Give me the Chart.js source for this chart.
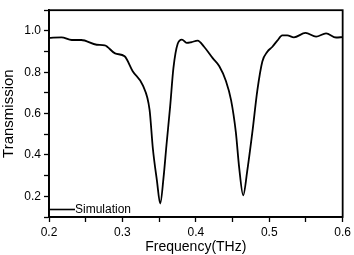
<!DOCTYPE html>
<html>
<head>
  <meta charset="UTF-8" />
  <script src="https://cdn.jsdelivr.net/npm/chart.js"></script>
  <style>
    body { margin: 0; background: #fff; }
    #wrap { width: 354px; height: 255px; }
  </style>
</head>
<body>
  <div id="wrap"><canvas id="chart"></canvas></div>
  <script>
    const freq = [0.200, 0.217, 0.231, 0.244, 0.265, 0.276, 0.290, 0.303, 0.314, 0.328,
                  0.337, 0.3415, 0.347, 0.3515, 0.356, 0.360, 0.365, 0.3695, 0.3753, 0.381,
                  0.3875, 0.3935, 0.4025, 0.4115, 0.423, 0.432, 0.441, 0.448, 0.4545, 0.459,
                  0.4645, 0.470, 0.477, 0.4838, 0.4906, 0.4974, 0.504, 0.511, 0.5177, 0.5245,
                  0.5336, 0.5494, 0.5638, 0.5774, 0.591, 0.600];
    const trans = [0.966, 0.969, 0.956, 0.956, 0.933, 0.930, 0.891, 0.877, 0.805, 0.735,
                   0.618, 0.430, 0.276, 0.165, 0.290, 0.447, 0.634, 0.821, 0.938, 0.958,
                   0.942, 0.945, 0.953, 0.922, 0.868, 0.829, 0.758, 0.665, 0.510, 0.340,
                   0.205, 0.322, 0.510, 0.712, 0.852, 0.899, 0.922, 0.953, 0.978, 0.978,
                   0.969, 0.990, 0.972, 0.988, 0.968, 0.970];
    const seriesName = "Simulation";

    const font = "'Liberation Sans', Arial, sans-serif";

    // legend sits inside the plot, bottom-left, plus the box frame
    const insideLegend = {
      id: "insideLegend",
      afterDraw(chart) {
        const { ctx, chartArea } = chart;
        ctx.save();
        ctx.strokeStyle = "#000";
        ctx.lineWidth = 1.8;
        ctx.strokeRect(chartArea.left, chartArea.top, chartArea.right - chartArea.left, chartArea.bottom - chartArea.top);
        const y = chartArea.bottom - 7.5;
        ctx.lineWidth = 1.6;
        ctx.beginPath();
        ctx.moveTo(chartArea.left, y);
        ctx.lineTo(chartArea.left + 26, y);
        ctx.stroke();
        ctx.fillStyle = "#000";
        ctx.font = "12px " + font;
        ctx.textBaseline = "middle";
        ctx.fillText(chart.data.datasets[0].label, chartArea.left + 26, y + 0.5);
        ctx.restore();
      }
    };

    new Chart(document.getElementById("chart"), {
      type: "line",
      data: {
        datasets: [{
          label: seriesName,
          data: freq.map((f, i) => ({ x: f, y: trans[i] })),
          borderColor: "#000",
          borderWidth: 1.8,
          pointRadius: 0,
          fill: false,
          cubicInterpolationMode: "monotone"
        }]
      },
      options: {
        responsive: true,
        maintainAspectRatio: false,
        animation: false,
        layout: { padding: { top: 4, right: 10, left: 0, bottom: 0 } },
        plugins: { legend: { display: false }, tooltip: { enabled: false } },
        scales: {
          x: {
            type: "linear",
            min: 0.2,
            max: 0.6,
            afterFit: (s) => { s.height = 38; },
            border: { display: true, color: "#000", width: 1.8 },
            grid: { drawOnChartArea: false, tickLength: 5, tickColor: "#000", tickWidth: 1.3 },
            ticks: {
              stepSize: 0.05,
              autoSkip: false,
              maxRotation: 0,
              padding: 3,
              color: "#000",
              font: { family: font, size: 12 },
              callback: (v) => Math.round(v * 100) % 10 === 0 ? v.toFixed(1) : ""
            },
            title: {
              display: true,
              text: "Frequency(THz)",
              color: "#000",
              font: { family: font, size: 14, lineHeight: 1 },
              padding: { top: 0, bottom: 1 }
            }
          },
          y: {
            min: 0.1,
            max: 1.1,
            afterFit: (s) => { s.width = 49; },
            border: { display: true, color: "#000", width: 1.8 },
            grid: { drawOnChartArea: false, tickLength: 5, tickColor: "#000", tickWidth: 1.3 },
            ticks: {
              stepSize: 0.1,
              autoSkip: false,
              padding: 3,
              color: "#000",
              font: { family: font, size: 12 },
              callback: (v) => Math.round(v * 10) % 2 === 0 ? v.toFixed(1) : ""
            },
            title: {
              display: true,
              text: "Transmission",
              color: "#000",
              font: { family: font, size: 15, lineHeight: 1 },
              padding: { top: 1, bottom: 0 }
            }
          }
        }
      },
      plugins: [insideLegend]
    });
  </script>
</body>
</html>
